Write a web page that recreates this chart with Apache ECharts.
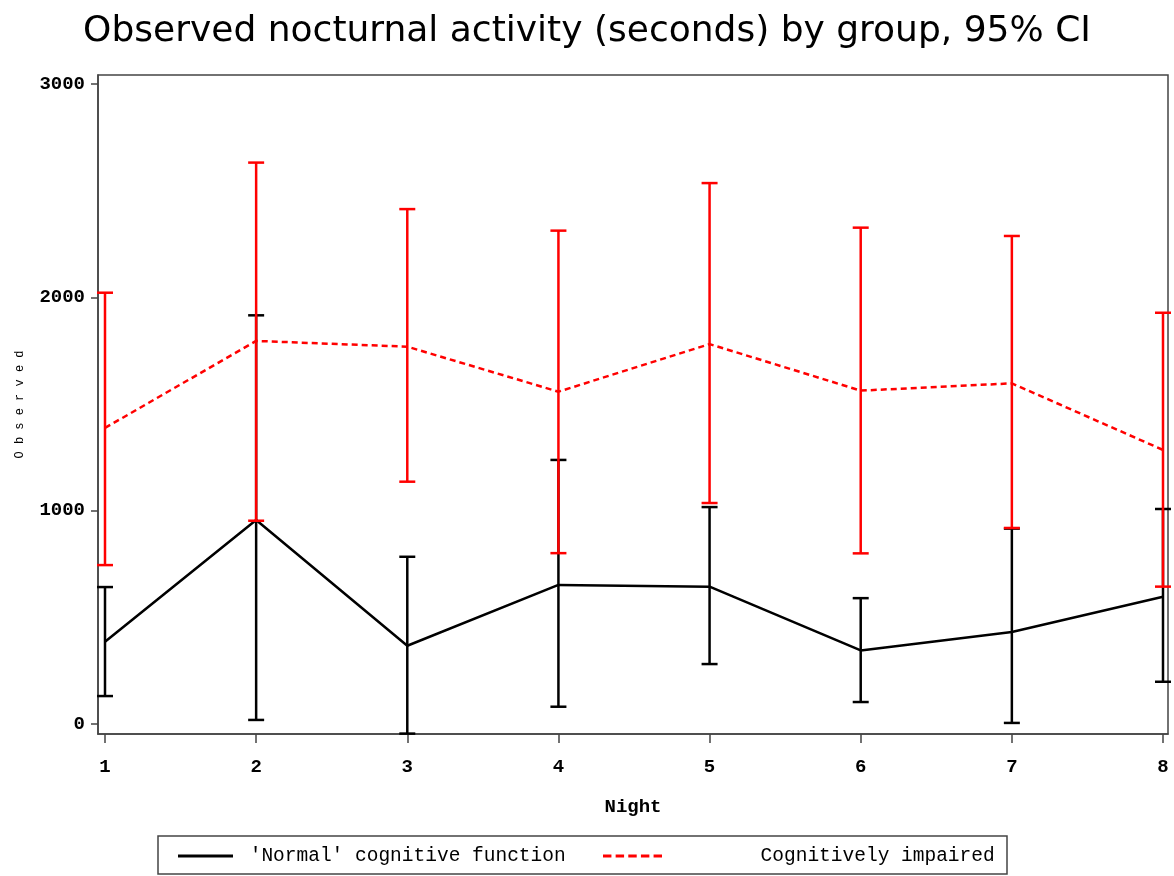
<!DOCTYPE html>
<html>
<head>
<meta charset="utf-8">
<script src="https://cdn.jsdelivr.net/npm/echarts@6/dist/echarts.min.js"></script>
<style>
html,body{margin:0;padding:0;background:#fff;}
#chart{width:1174px;height:876px;}
</style>
</head>
<body>
<div id="chart"></div>
<script>
const nights = [1, 2, 3, 4, 5, 6, 7, 8];
const normalMean  = [386, 956, 367, 652, 644, 345, 431, 597];
const normalLower = [131, 19, -45, 81, 281, 103, 5, 198];
const normalUpper = [642, 1916, 784, 1238, 1017, 590, 916, 1008];
const impairedMean  = [1388, 1796, 1769, 1558, 1781, 1563, 1597, 1285];
const impairedLower = [745, 953, 1136, 801, 1036, 800, 919, 644];
const impairedUpper = [2022, 2632, 2414, 2313, 2536, 2327, 2288, 1928];
const yTicks = [0, 1000, 2000, 3000];

const titleText = 'Observed nocturnal activity (seconds) by group, 95% CI';
const xName = 'Night';
const yName = 'Observed';
const normalName = "'Normal' cognitive function";
const impairedName = 'Cognitively impaired';

function pairs(xs, ys) { return xs.map((x, i) => [x, ys[i]]); }
function bars(xs, lo, hi) { return xs.map((x, i) => [x, lo[i], hi[i]]); }

function errorRenderer(color) {
  return function (params, api) {
    const x = api.value(0);
    const lo = api.coord([x, api.value(1)]);
    const hi = api.coord([x, api.value(2)]);
    const hw = 8;
    const style = { stroke: color, lineWidth: 2.5 };
    return {
      type: 'group',
      children: [
        { type: 'line', shape: { x1: lo[0], y1: lo[1], x2: hi[0], y2: hi[1] }, style: style },
        { type: 'line', shape: { x1: lo[0] - hw, y1: lo[1], x2: lo[0] + hw, y2: lo[1] }, style: style },
        { type: 'line', shape: { x1: hi[0] - hw, y1: hi[1], x2: hi[0] + hw, y2: hi[1] }, style: style }
      ]
    };
  };
}

const tickFont = { fontFamily: 'Liberation Mono', fontWeight: 'bold', fontSize: 19, color: '#000' };
const frameLine = { color: '#444', width: 1.5 };
const dashIcon = 'path://M0,0h8v2h-8z M12,0h8v2h-8z M24,0h8v2h-8z M36,0h8v2h-8z M48,0h8v2h-8z';
const plain = function (v) { return String(v); };

const chart = echarts.init(document.getElementById('chart'), null, { renderer: 'canvas' });
chart.setOption({
  backgroundColor: '#fff',
  animation: false,
  title: {
    text: titleText,
    left: 'center',
    top: 9,
    textStyle: { fontFamily: 'DejaVu Sans', fontWeight: 'normal', fontSize: 36, color: '#000' }
  },
  grid: {
    left: 98, right: 6, top: 75, bottom: 142,
    containLabel: false, outerBoundsMode: 'none',
    show: true, borderColor: '#444', borderWidth: 1.5, backgroundColor: 'transparent'
  },
  xAxis: {
    type: 'value', min: 0.9537, max: 8.0331,
    axisLine: { show: true, onZero: false, lineStyle: frameLine },
    axisTick: { show: true, length: 9, customValues: nights, lineStyle: frameLine },
    axisLabel: Object.assign({ margin: 24, customValues: nights, formatter: plain }, tickFont),
    splitLine: { show: false },
    name: xName, nameLocation: 'middle', nameGap: 64,
    nameTextStyle: { fontFamily: 'Liberation Mono', fontWeight: 'bold', fontSize: 19, color: '#000' }
  },
  yAxis: {
    type: 'value', min: -46.9, max: 3042.7,
    axisLine: { show: true, onZero: false, lineStyle: frameLine },
    axisTick: { show: true, length: 7, customValues: yTicks, lineStyle: frameLine },
    axisLabel: Object.assign({ margin: 13, customValues: yTicks, formatter: plain }, tickFont),
    splitLine: { show: false },
    name: yName.split('').join(' '), nameLocation: 'middle', nameGap: 72, nameRotate: 90,
    nameTextStyle: { fontFamily: 'Liberation Mono', fontSize: 12, color: '#000' }
  },
  legend: [
    {
      data: [{ name: normalName, icon: 'rect' }], left: 178, top: 846, padding: 0,
      itemWidth: 55, itemHeight: 3, itemGap: 0, symbolKeepAspect: false,
      formatter: function (n) { return ' ' + n; },
      textStyle: { fontFamily: 'Liberation Mono', fontSize: 19.5, color: '#000' }
    },
    {
      data: [{ name: impairedName, icon: dashIcon }], left: 603, top: 846, padding: 0,
      itemWidth: 59, itemHeight: 3, itemGap: 0, symbolKeepAspect: false,
      formatter: function (n) { return '        ' + n; },
      textStyle: { fontFamily: 'Liberation Mono', fontSize: 19.5, color: '#000' }
    }
  ],
  graphic: [
    { type: 'rect', shape: { x: 158, y: 836, width: 849, height: 38 }, style: { fill: 'none', stroke: '#444', lineWidth: 1.5 }, silent: true }
  ],
  series: [
    {
      name: normalName + ' CI', type: 'custom',
      renderItem: errorRenderer('#000'), data: bars(nights, normalLower, normalUpper), clip: false, z: 2
    },
    {
      name: normalName, type: 'line',
      data: pairs(nights, normalMean), symbol: 'none',
      lineStyle: { color: '#000', width: 2.5, type: 'solid' }, itemStyle: { color: '#000' }, z: 3
    },
    {
      name: impairedName + ' CI', type: 'custom',
      renderItem: errorRenderer('#ff0000'), data: bars(nights, impairedLower, impairedUpper), clip: false, z: 4
    },
    {
      name: impairedName, type: 'line',
      data: pairs(nights, impairedMean), symbol: 'none',
      lineStyle: { color: '#ff0000', width: 2.5, type: [6, 4] }, itemStyle: { color: '#ff0000' }, z: 5
    }
  ]
});
</script>
</body>
</html>
